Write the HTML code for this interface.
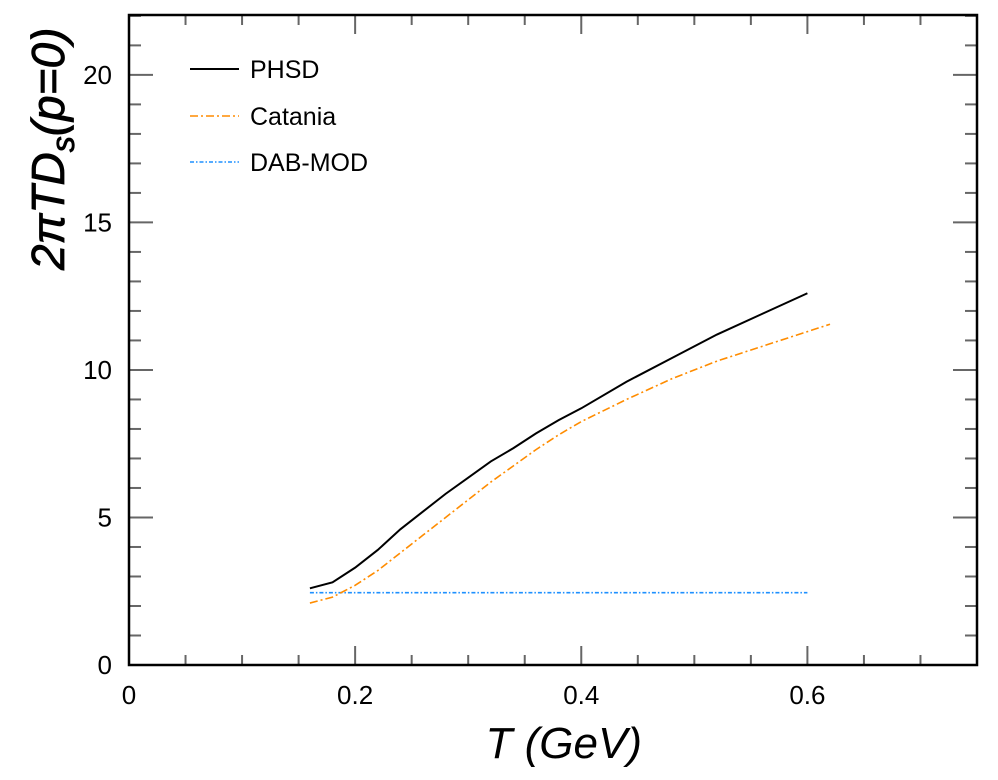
<!DOCTYPE html>
<html><head><meta charset="utf-8"><style>
body{margin:0;background:#fff;}
svg text{font-family:"Liberation Sans",sans-serif;}
</style></head><body>
<svg id="chart" width="998" height="775" xmlns="http://www.w3.org/2000/svg">
<g id="ticks"></g>
<g id="series"></g>
<rect x="129" y="15" width="848" height="650" fill="none" stroke="#000" stroke-width="2.5"/>
<g id="labels" font-size="26" fill="#000"></g>
<text x="642" y="758" font-size="44" font-style="italic" text-anchor="end">T (GeV)</text>
<text transform="translate(64,270) rotate(-90)" font-size="46" font-style="italic" stroke="#000" stroke-width="0.8" text-anchor="start">2πTD<tspan font-size="32" dy="10">s</tspan><tspan dy="-10">(p=0)</tspan></text>
<g font-size="25">
<line x1="190" y1="69" x2="239" y2="69" stroke="#000" stroke-width="2"/>
<text x="250" y="78">PHSD</text>
<line x1="190" y1="116" x2="239" y2="116" stroke="#ff8c00" stroke-width="1.6" stroke-dasharray="8,3,2,3"/>
<text x="250" y="125">Catania</text>
<line x1="190" y1="162" x2="239" y2="162" stroke="#1e90ff" stroke-width="1.6" stroke-dasharray="4,2,1.5,2"/>
<text x="250" y="171">DAB-MOD</text>
</g>
</svg>
<script>
const phsdT=[0.16,0.18,0.2,0.22,0.24,0.26,0.28,0.3,0.32,0.34,0.36,0.38,0.4,0.44,0.48,0.52,0.56,0.6];
const phsdD=[2.6,2.8,3.3,3.9,4.6,5.2,5.8,6.35,6.9,7.35,7.85,8.3,8.7,9.6,10.4,11.2,11.9,12.6];
const cataniaT=[0.16,0.18,0.2,0.22,0.24,0.26,0.28,0.3,0.32,0.34,0.36,0.38,0.4,0.44,0.48,0.52,0.56,0.6,0.62];
const cataniaD=[2.1,2.3,2.7,3.2,3.8,4.4,5.0,5.6,6.2,6.75,7.3,7.8,8.25,9.0,9.7,10.3,10.8,11.3,11.55];
const dabT=[0.16,0.6];
const dabD=[2.45,2.45];
const xTickLabels=["0","0.2","0.4","0.6"];
const yTickLabels=["0","5","10","15","20"];
const NS="http://www.w3.org/2000/svg";
const X=v=>129+v*(848/0.75);
const Y=v=>665-v*(650/22.03);
const tg=document.getElementById('ticks'),lg=document.getElementById('labels'),sg=document.getElementById('series');
function ln(g,x1,y1,x2,y2){const l=document.createElementNS(NS,'line');
l.setAttribute('x1',x1);l.setAttribute('y1',y1);l.setAttribute('x2',x2);l.setAttribute('y2',y2);
l.setAttribute('stroke','#666');l.setAttribute('stroke-width','2');


g.appendChild(l);}
for(let i=0;i<=15;i++){const v=i*0.05,x=X(v),len=i%4==0?19:10;ln(tg,x,665,x,665-len);ln(tg,x,15,x,15+len);}
for(let i=0;i<=22;i++){const y=Y(i),len=i%5==0?24:12;ln(tg,129,y,129+len,y);ln(tg,977,y,977-len,y);}
function tx(s,x,y,a,name){const t=document.createElementNS(NS,'text');t.textContent=s;
t.setAttribute('x',x);t.setAttribute('y',y);t.setAttribute('text-anchor',a);


lg.appendChild(t);}
xTickLabels.forEach(s=>tx(s,X(parseFloat(s)),704,'middle','x-tick-label'));
yTickLabels.forEach(s=>tx(s,112,Y(parseFloat(s))+9,'end','y-tick-label'));
function poly(xs,ys,color,w,dash,name){const p=document.createElementNS(NS,'polyline');
p.setAttribute('points',xs.map((v,i)=>X(v)+','+Y(ys[i])).join(' '));
p.setAttribute('fill','none');p.setAttribute('stroke',color);p.setAttribute('stroke-width',w);
if(dash)p.setAttribute('stroke-dasharray',dash);


sg.appendChild(p);}
poly(dabT,dabD,'#1e90ff',1.6,'4,2,1.5,2','dab-mod-line');
poly(cataniaT,cataniaD,'#ff8c00',1.6,'8,3,2,3','catania-line');
poly(phsdT,phsdD,'#000',2,null,'phsd-line');
</script>
</body></html>
